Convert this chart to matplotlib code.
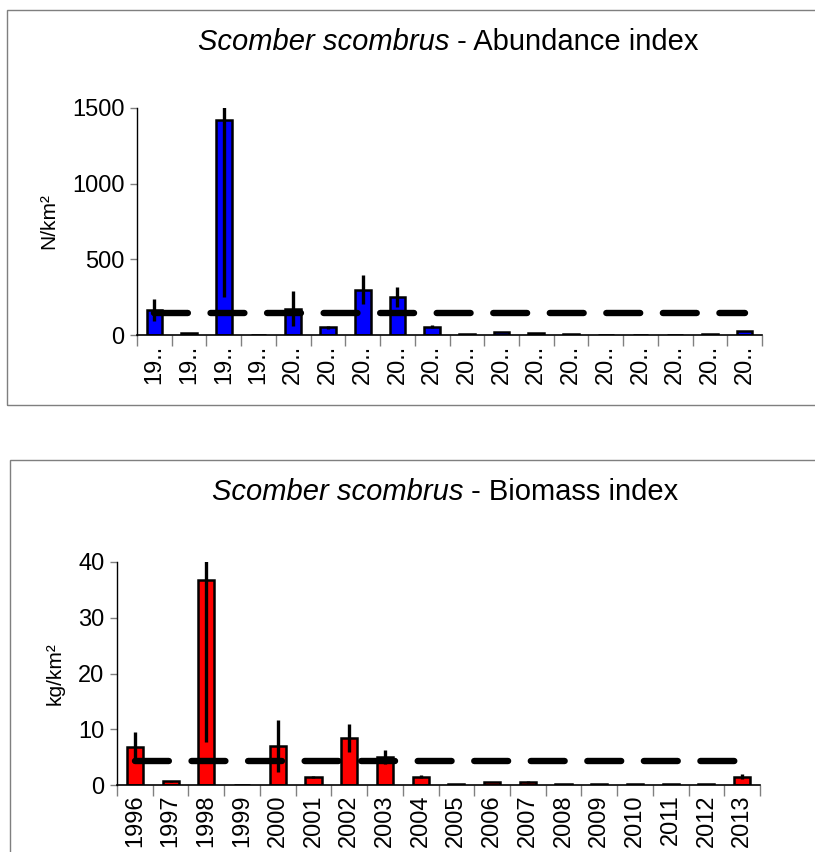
import matplotlib
matplotlib.use("Agg")
import matplotlib.pyplot as plt
from matplotlib.patches import Rectangle
from matplotlib.ticker import FixedLocator, NullFormatter
import numpy as np

plt.rcParams['font.family'] = ['Liberation Sans', 'DejaVu Sans']

years = ['1996', '1997', '1998', '1999', '2000', '2001', '2002', '2003', '2004',
         '2005', '2006', '2007', '2008', '2009', '2010', '2011', '2012', '2013']
abund_labels = [y[:2] + '..' for y in years]

abundance = [165, 10, 1420, 0, 175, 50, 300, 250, 55, 5, 20, 10, 8, 3, 2, 3, 5, 25]
abundance_err = [70, 0, 1170, 0, 115, 10, 95, 65, 12, 0, 0, 0, 0, 0, 0, 0, 0, 0]
abundance_mean = 148

biomass = [6.8, 0.7, 36.8, 0.0, 7.0, 1.5, 8.5, 5.0, 1.5, 0.2, 0.6, 0.6, 0.2, 0.2, 0.1, 0.2, 0.2, 1.5]
biomass_err = [2.7, 0.1, 29.0, 0.0, 4.7, 0.2, 2.5, 1.3, 0.3, 0.0, 0.0, 0.2, 0.0, 0.0, 0.0, 0.0, 0.0, 0.5]
biomass_mean = 4.3

W, H = 815, 852
fig = plt.figure(figsize=(W / 100, H / 100), dpi=100)

def fx(px):
    return px / W

def fy(py):
    return 1 - py / H

# panel frames
fig.patches.append(Rectangle((fx(7), fy(405)), fx(815 + 20) - fx(7), fy(10) - fy(405),
                             transform=fig.transFigure, fill=False, edgecolor='#7f7f7f', lw=1.0))
fig.patches.append(Rectangle((fx(10), fy(900)), fx(815 + 20) - fx(10), fy(460) - fy(900),
                             transform=fig.transFigure, fill=False, edgecolor='#7f7f7f', lw=1.0))


def make_panel(rect, values, errs, mean, color, ylim, yticks, ylabel, xlabels, title_rest, title_y, title_cx):
    ax = fig.add_axes(rect)
    x = np.arange(len(values))
    ax.bar(x, values, width=0.45, color=color, edgecolor='black', linewidth=1.8, zorder=2)
    ax.errorbar(x, values, yerr=errs, fmt='none', ecolor='black', elinewidth=2.4, capsize=0, zorder=4)
    ax.plot([x[0], x[-1]], [mean, mean], color='black', lw=4.6, solid_capstyle='round',
            dash_capstyle='round', dashes=(5.3, 3.55), zorder=3)
    ax.set_xlim(-0.5, len(values) - 0.5)
    ax.set_ylim(*ylim)
    ax.set_yticks(yticks)
    ax.set_xticks(x)
    ax.set_xticklabels(xlabels, rotation=90, fontsize=17)
    ax.tick_params(axis='x', which='major', length=0, pad=7)
    ax.xaxis.set_minor_locator(FixedLocator(np.arange(-0.5, len(values), 1.0)))
    ax.xaxis.set_minor_formatter(NullFormatter())
    ax.tick_params(axis='x', which='minor', length=8, width=1, color='#808080', direction='out')
    ax.tick_params(axis='y', length=5, width=1, color='#808080', labelsize=17, pad=4)
    for s in ['top', 'right']:
        ax.spines[s].set_visible(False)
    ax.spines['left'].set_linewidth(1)
    ax.spines['bottom'].set_linewidth(1.2)
    ax.set_ylabel(ylabel, fontsize=15, labelpad=10)

    # title: italic species + regular rest
    fig.canvas.draw()
    r = fig.canvas.get_renderer()
    t1 = fig.text(0, fy(title_y), 'Scomber scombrus', fontsize=21, style='italic', va='center', ha='left')
    t2 = fig.text(0, fy(title_y), title_rest, fontsize=21, va='center', ha='left')
    w1 = t1.get_window_extent(r).width
    w2 = t2.get_window_extent(r).width
    left = title_cx - (w1 + w2) / 2
    t1.set_x(fx(left))
    t2.set_x(fx(left + w1))
    return ax


ax1 = make_panel([fx(137), fy(335), fx(762) - fx(137), fy(108) - fy(335)],
                 abundance, abundance_err, abundance_mean, '#0000ff', (0, 1500),
                 [0, 500, 1000, 1500], 'N/km²', abund_labels, ' - Abundance index', 42, 448)
ax2 = make_panel([fx(117), fy(785), fx(760) - fx(117), fy(562) - fy(785)],
                 biomass, biomass_err, biomass_mean, '#ff0000', (0, 40),
                 [0, 10, 20, 30, 40], 'kg/km²', years, ' - Biomass index', 492, 445)

fig.savefig('out.png', dpi=100)
